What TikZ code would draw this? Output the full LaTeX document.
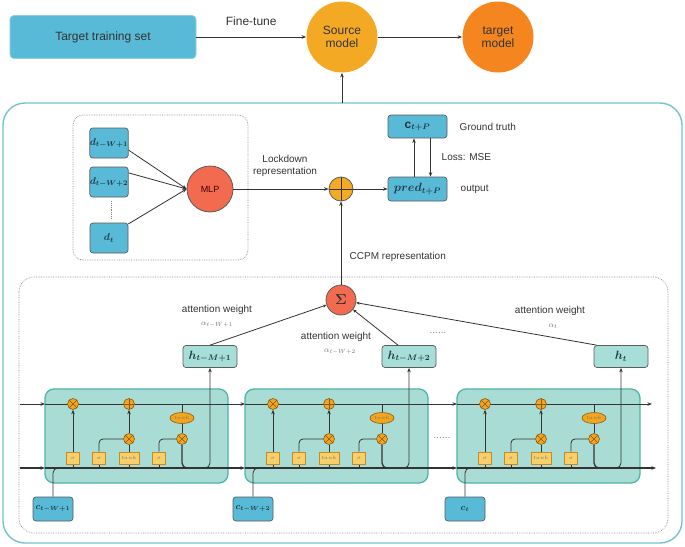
\documentclass[tikz,border=0pt]{standalone}
\usepackage{amsmath}
\usepackage{fontspec}
\setmainfont{Liberation Sans}
\usetikzlibrary{arrows.meta,shapes.geometric,calc}
\pgfdeclarelayer{bg}\pgfdeclarelayer{mid}\pgfsetlayers{bg,mid,main}
\definecolor{tcol}{HTML}{333333}
\definecolor{boxblue}{HTML}{58BAD6}
\definecolor{srcfill}{HTML}{F4A925}
\definecolor{tgtfill}{HTML}{F5861F}
\definecolor{outerc}{HTML}{72C2D4}
\definecolor{mlpfill}{HTML}{F26A4F}
\definecolor{plusfill}{HTML}{F4AA22}
\definecolor{hfill}{HTML}{A8DED8}
\definecolor{cellfill}{HTML}{A9DCD4}
\definecolor{cellborder}{HTML}{4DB5A4}
\definecolor{gatefill}{HTML}{F7D06C}
\definecolor{gateborder}{HTML}{C98A22}
\definecolor{opfill}{HTML}{F2A51E}
\definecolor{opborder}{HTML}{8A5A12}
\definecolor{mathc}{HTML}{1E3A48}
\definecolor{lnc}{HTML}{333333}
\tikzset{
  lbl/.style={font=\fontsize{10}{11.5}\selectfont, text=tcol, align=center},
  toplbl/.style={font=\fontsize{12}{13.5}\selectfont, text=tcol, align=center},
  arr/.style={-{Stealth[length=4.5pt,width=3.5pt]}},
  bbox/.style={draw=lnc!80, fill=boxblue, rounded corners=3, line width=0.7, text=mathc, inner sep=0},
  hbox/.style={draw=lnc!80, fill=hfill, rounded corners=3, line width=0.7, text=mathc, minimum width=54, minimum height=22, inner sep=0, font=\large},
  cellbox/.style={draw=cellborder, fill=cellfill, line width=1.3, rounded corners=9, minimum width=183, minimum height=94},
  gate/.style={draw=gateborder, fill=gatefill, line width=0.6, minimum width=13, minimum height=12, inner sep=0, font=\fontsize{5}{5}\selectfont, text=black!55},
  op/.style={circle, draw=opborder, fill=opfill, line width=0.6, minimum size=11, inner sep=0},
  otimes/.style={op, path picture={\draw[line width=0.6, opborder] (path picture bounding box.north west) -- (path picture bounding box.south east) (path picture bounding box.north east) -- (path picture bounding box.south west);}},
  oplus/.style={op, path picture={\draw[line width=0.6, opborder] (path picture bounding box.north) -- (path picture bounding box.south) (path picture bounding box.east) -- (path picture bounding box.west);}},
  ell/.style={ellipse, draw=opborder, fill=opfill, line width=0.6, minimum width=24, minimum height=11, inner sep=0, font=\fontsize{4.5}{5}\selectfont, text=black!55},
  dotbox/.style={draw=black!45, densely dotted, line width=0.7},
}
\newcommand{\lstmcell}[2]{%
\begin{scope}[shift={(#2,0)}, name prefix=#1-]
\begin{pgfonlayer}{bg}
\node[cellbox] (box) at (136.5,436) {};
\end{pgfonlayer}
\coordinate (bl) at (45,468); \coordinate (br) at (228,468);
\coordinate (tl) at (45,404); \coordinate (tr) at (228,404);
\coordinate (o) at (209,468); \coordinate (ij) at (63,468);
\node[otimes] (f) at (73,404) {};
\node[oplus] (add) at (129,404) {};
\node[otimes] (m1) at (129,439) {};
\node[otimes] (m2) at (182,439) {};
\node[ell] (th) at (182,418) {$tanh$};
\node[gate] (s1) at (73,458) {$\sigma$};
\node[gate] (s2) at (99,458) {$\sigma$};
\node[gate, minimum width=20] (t) at (129,458) {$tanh$};
\node[gate] (s3) at (159,458) {$\sigma$};
\begin{pgfonlayer}{mid}
\draw[lnc, line width=0.8] (tl) -- (tr);
\draw[lnc, line width=1.3] (bl) -- (br);
\draw[lnc, line width=0.8, arr] (s1.north) -- (f.south);
\draw[lnc, line width=0.8] (s1.south) -- (s1.south |- bl);
\draw[lnc, line width=0.8, rounded corners=4] (s2.north) |- (m1.west);
\draw[lnc, line width=0.8] (s2.south) -- (s2.south |- bl);
\draw[lnc, line width=0.8] (t.north) -- (m1.south);
\draw[lnc, line width=0.8] (t.south) -- (t.south |- bl);
\draw[lnc, line width=0.8, arr] (m1.north) -- (add.south);
\draw[lnc, line width=0.8, rounded corners=4] (s3.north) |- (m2.west);
\draw[lnc, line width=0.8] (s3.south) -- (s3.south |- bl);
\draw[lnc, line width=0.8] (th |- tl) -- (th.north);
\draw[lnc, line width=0.8] (th.south) -- (m2.north);
\draw[lnc, line width=1.3, rounded corners=5] (m2.south) |- (br);
\end{pgfonlayer}
\end{scope}}
\begin{document}
\begin{tikzpicture}[x=1pt, y=-1pt, line width=0.8pt, draw=lnc]
\useasboundingbox (0,0) rectangle (685,546);
% outer containers
\draw[outerc, line width=1.4, rounded corners=22] (3,103) rectangle (682,543);
\draw[dotbox, rounded corners=10] (73,115) rectangle (248,260);
\draw[dotbox, rounded corners=15] (19,277) rectangle (668,533);
% top row
\node[fill=boxblue, draw=boxblue!70!white, rounded corners=4, minimum width=186, minimum height=43, toplbl] (tts) at (103,37) {Target training set};
\node[circle, fill=srcfill, minimum size=71, inner sep=0, toplbl] (src) at (342,37) {Source\\model};
\node[circle, fill=tgtfill, minimum size=71, inner sep=0, toplbl] (tgt) at (498,37) {target\\model};
\draw[arr] (tts) -- (src) node[midway, above=8pt, toplbl] {Fine-tune};
\draw[arr] (src) -- (tgt);
\coordinate (otop) at (342,103);
\draw[arr] (otop) -- (src);
% MLP part
\node[bbox, minimum width=38, minimum height=30, font=\normalsize] (d1) at (109,143) {$\boldsymbol{d_{t-W+1}}$};
\node[bbox, minimum width=38, minimum height=30, font=\normalsize] (d2) at (109,182) {$\boldsymbol{d_{t-W+2}}$};
\node[bbox, minimum width=38, minimum height=30, font=\normalsize] (d3) at (109,238) {$\boldsymbol{d_{t}}$};
\draw[densely dotted, black!50, line width=0.8] ($(d2.south)+(2,4)$) -- ($(d3.north)+(2,-4)$);
\node[circle, draw=lnc!80, fill=mlpfill, minimum size=46, inner sep=0, font=\fontsize{9}{10}\selectfont, text=black!75!red] (mlp) at (210,189) {MLP};
\draw[arr] (d1.-20) -- (mlp.west);
\draw[arr] (d2.25) -- (mlp.west);
\draw[arr] (d3.36) -- (mlp.west);
\node[circle, draw=lnc!80, fill=plusfill, minimum size=24, inner sep=0, path picture={\draw[line width=0.7, lnc] (path picture bounding box.north) -- (path picture bounding box.south) (path picture bounding box.east) -- (path picture bounding box.west);}] (plus) at (341,189) {};
\draw[arr] (mlp) -- (plus);
\node[lbl] at (285,166) {Lockdown\\representation};
\node[bbox, minimum width=59, minimum height=24, font=\large] (pred) at (417.5,189) {$\boldsymbol{pred_{t+P}}$};
\node[bbox, minimum width=59, minimum height=23, font=\large] (ct) at (417.5,126.5) {$\mathbf{c}_{\boldsymbol{t+P}}$};
\draw[arr] (plus) -- (pred);
\draw[arr] ([xshift=-3.5pt]pred.north) -- ([xshift=-3.5pt]ct.south);
\draw[arr] ([xshift=13pt]ct.south) -- ([xshift=13pt]pred.north);
\node[lbl, anchor=west] at (456,127) {Ground truth};
\node[lbl, anchor=west] at (438,157) {Loss: MSE};
\node[lbl, anchor=west] at (457,189) {output};
% attention part
\node[circle, draw=lnc!80, fill=mlpfill, minimum size=30, inner sep=0, font=\Large, text=black!80] (sig) at (341,300) {$\boldsymbol{\Sigma}$};
\draw[arr] (sig) -- (plus);
\node[lbl, anchor=west] at (346,257) {CCPM representation};
\node[hbox] (h1) at (210,356.5) {$\boldsymbol{h_{t-M+1}}$};
\node[hbox] (h2) at (409,356.5) {$\boldsymbol{h_{t-M+2}}$};
\node[hbox] (h3) at (621,356.5) {$\boldsymbol{h_{t}}$};
\draw[-{Stealth[length=3.5pt,width=3pt]}] (h1.north) -- (sig);
\draw[-{Stealth[length=3.5pt,width=3pt]}] ([xshift=-11pt]h2.north) -- (sig);
\draw[-{Stealth[length=3.5pt,width=3pt]}] ([xshift=3pt]h3.north west) -- (sig);
\node[lbl] at (217,310) {attention weight};
\node[lbl, text=black!55, font=\footnotesize] at (217,325) {$\alpha_{t-W+1}$};
\node[lbl] at (336,337) {attention weight};
\node[lbl, text=black!55, font=\footnotesize] at (340,352) {$\alpha_{t-W+2}$};
\node[lbl] at (550,311) {attention weight};
\node[lbl, text=black!55, font=\footnotesize] at (553,326) {$\alpha_{t}$};
\node[lbl, text=black!50] at (438,333) {......};
% LSTM cells
\lstmcell{c1}{0}
\lstmcell{c2}{200}
\lstmcell{c3}{412}
\coordinate (cin) at (20,404); \coordinate (cout) at (652,404);
\coordinate (bin) at (20,468); \coordinate (bout) at (656,468);
\draw[arr] (cin) -- (c1-tl);
\draw[arr] (c1-tr) -- (c2-tl);
\draw[arr] (c2-tr) -- (c3-tl);
\draw[arr] (c3-tr) -- (cout);
\draw[arr, line width=1.3] (bin) -- (c1-bl);
\draw[arr, line width=1.3] (c1-br) -- (c2-bl);
\draw[arr, line width=1.3] (c2-br) -- (c3-bl);
\draw[arr, line width=1.3] (c3-br) -- (bout);
\node[lbl, text=black!50] at (442,438) {......};
\draw[arr, rounded corners=5] ([xshift=-10pt]c1-o) -| (h1.south);
\draw[arr, rounded corners=5] ([xshift=-10pt]c2-o) -| (h2.south);
\draw[arr, rounded corners=5] ([xshift=-10pt]c3-o) -| (h3.south);
% inputs
\node[bbox, minimum width=40, minimum height=24, font=\small] (x1) at (53,509) {$\boldsymbol{c_{t-W+1}}$};
\node[bbox, minimum width=40, minimum height=24, font=\small] (x2) at (253,509) {$\boldsymbol{c_{t-W+2}}$};
\node[bbox, minimum width=40, minimum height=24, font=\small] (x3) at (465,509) {$\boldsymbol{c_{t}}$};
\draw[rounded corners=5] (x1.north) |- (c1-ij);
\draw[rounded corners=5] (x2.north) |- (c2-ij);
\draw[rounded corners=5] (x3.north) |- (c3-ij);
\end{tikzpicture}
\end{document}
